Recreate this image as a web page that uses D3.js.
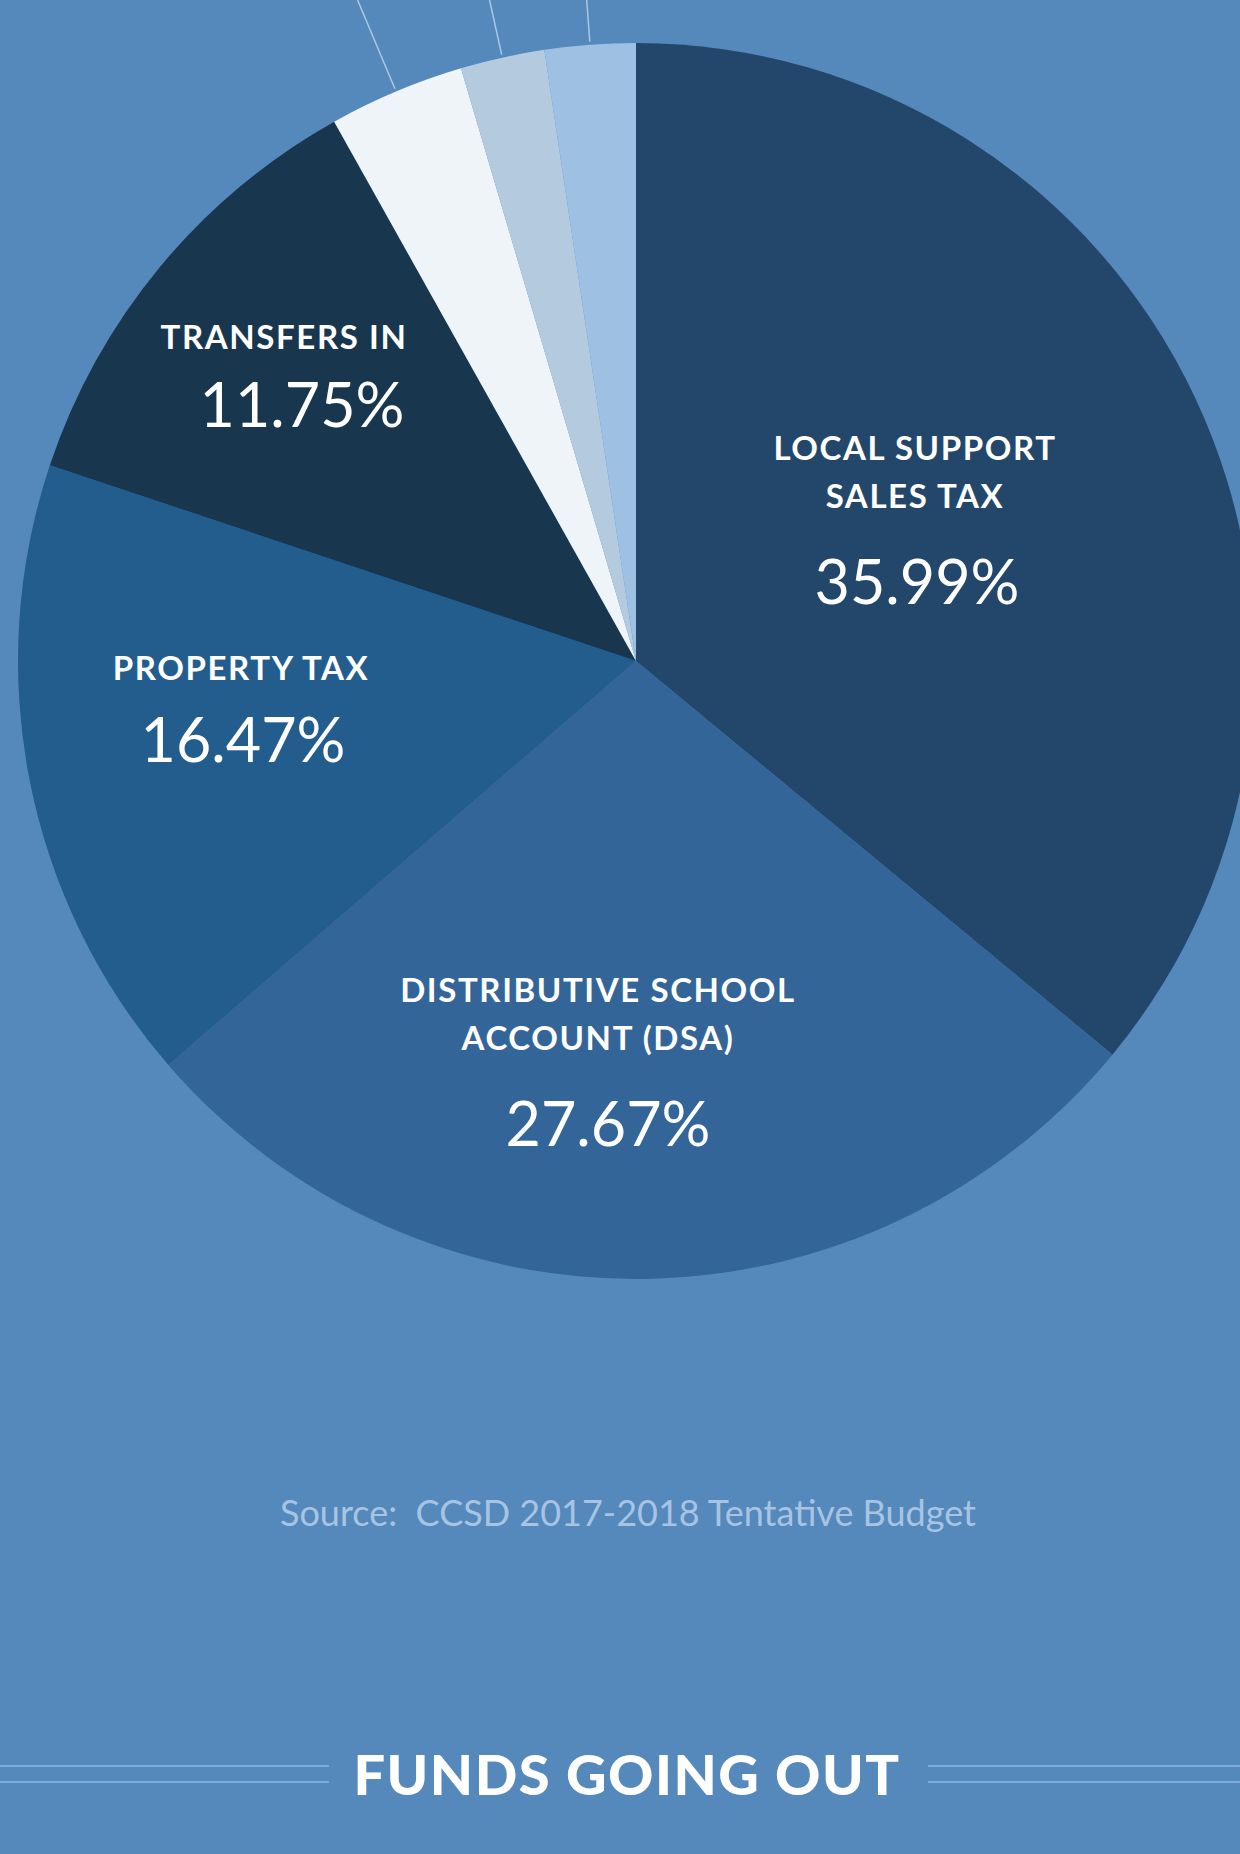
<!DOCTYPE html>
<html>
<head>
<meta charset="utf-8">
<script src="https://cdn.jsdelivr.net/npm/d3@7/dist/d3.min.js"></script>
<style>
  html, body { margin: 0; padding: 0; background: #5588bb; }
  svg { display: block; }
</style>
</head>
<body>
<svg id="chart" width="1240" height="1854"></svg>
<script>
// ---- data ----
const categories = ["Local Support Sales Tax", "Distributive School Account (DSA)", "Property Tax", "Transfers In", "Other Source A", "Other Source B", "Other Source C"];
const values = [35.99, 27.67, 16.47, 11.75, 3.55, 2.20, 2.37];
const labelLines = [["LOCAL SUPPORT", "SALES TAX"], ["DISTRIBUTIVE SCHOOL", "ACCOUNT (DSA)"], ["PROPERTY TAX"], ["TRANSFERS IN"], [], [], []];
const percentLabels = ["35.99%", "27.67%", "16.47%", "11.75%", "", "", ""];
const leaderFlags = [false, false, false, false, true, true, true];
const sourceText = "Source:  CCSD 2017-2018 Tentative Budget";
const footerTitle = "FUNDS GOING OUT";

// ---- styles / layout ----
const colors = ["#22476a", "#336598", "#225d8d", "#18374f", "#eef4f8", "#b4cbdf", "#9dc0e3"];
const W = 1240, H = 1854;
const cx = 636, cy = 661, R = 618;
// label anchor points (text centres / baselines)
const labelLayout = [
  { x: 915, lines: [460, 508], px: 917, py: 604 },
  { x: 598, lines: [1002, 1050], px: 608, py: 1146 },
  { x: 241, lines: [680], px: 243, py: 762 },
  { x: 284, lines: [349], px: 302, py: 427 },
  null, null, null
];

const svg = d3.select("#chart");
svg.append("rect").attr("width", W).attr("height", H).attr("fill", "#5588bb");

const data = categories.map((c, i) => ({ name: c, value: values[i], color: colors[i], i }));
const pie = d3.pie().value(d => d.value).sort(null);
const arcs = pie(data);
const arc = d3.arc().innerRadius(0).outerRadius(R);

const g = svg.append("g").attr("transform", `translate(${cx},${cy})`);
g.selectAll("path.slice").data(arcs).join("path")
  .attr("class", "slice")
  .attr("d", arc)
  .attr("fill", d => d.data.color);

// leader lines for small slices (radial, going off the top)
const lineInner = d3.arc().innerRadius(R + 3).outerRadius(R + 3);
const lineOuter = d3.arc().innerRadius(R + 260).outerRadius(R + 260);
g.selectAll("line.leader").data(arcs.filter(d => leaderFlags[d.data.i])).join("line")
  .attr("class", "leader")
  .attr("x1", d => lineInner.centroid(d)[0])
  .attr("y1", d => lineInner.centroid(d)[1])
  .attr("x2", d => lineOuter.centroid(d)[0])
  .attr("y2", d => lineOuter.centroid(d)[1])
  .attr("stroke", "#a9c8e8")
  .attr("stroke-width", 1.5);

// labels
arcs.forEach(d => {
  const L = labelLayout[d.data.i];
  if (!L) return;
  labelLines[d.data.i].forEach((t, k) => {
    svg.append("text")
      .attr("x", L.x).attr("y", L.lines[k])
      .attr("text-anchor", "middle")
      .attr("font-family", "Lato, 'Open Sans', sans-serif")
      .attr("font-weight", 700)
      .attr("font-size", 33)
      .attr("letter-spacing", 1.6)
      .attr("fill", "#ffffff")
      .text(t);
  });
  svg.append("text")
    .attr("x", L.px).attr("y", L.py)
    .attr("text-anchor", "middle")
    .attr("font-family", "Lato, 'Open Sans', sans-serif")
    .attr("font-weight", 400)
    .attr("font-size", 61)
    .attr("fill", "#ffffff")
    .text(percentLabels[d.data.i]);
});

// source
svg.append("text")
  .attr("x", 628).attr("y", 1526)
  .attr("text-anchor", "middle")
  .attr("font-family", "Lato, 'Open Sans', sans-serif")
  .attr("font-size", 36)
  .attr("fill", "#a7c4e3")
  .style("white-space", "pre")
  .attr("xml:space", "preserve")
  .text(sourceText);

// footer title with double rules
const titleY = 1795;
svg.append("text")
  .attr("x", 627).attr("y", titleY)
  .attr("text-anchor", "middle")
  .attr("font-family", "Lato, 'Open Sans', sans-serif")
  .attr("font-weight", 900)
  .attr("font-size", 56)
  .attr("letter-spacing", 1.5)
  .attr("fill", "#ffffff")
  .text(footerTitle);

const rules = [[0, 329], [928, 1240]];
const ruleYs = [1766, 1782];
rules.forEach(r => ruleYs.forEach(y => {
  svg.append("line")
    .attr("x1", r[0]).attr("x2", r[1])
    .attr("y1", y).attr("y2", y)
    .attr("stroke", "#80aadb").attr("stroke-width", 2.2);
}));
</script>
</body>
</html>
